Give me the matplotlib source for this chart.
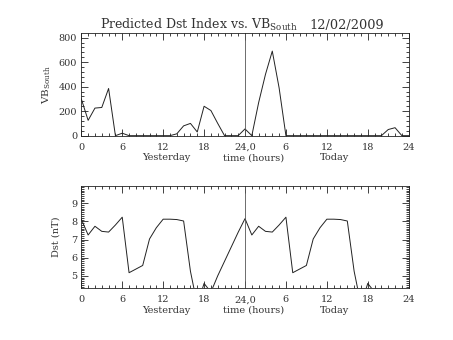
import matplotlib
matplotlib.use("Agg")
import matplotlib.pyplot as plt
from matplotlib.ticker import MultipleLocator

plt.rcParams['font.family'] = 'DejaVu Serif'
plt.rcParams['mathtext.fontset'] = 'custom'
plt.rcParams['mathtext.rm'] = 'DejaVu Serif'
plt.rcParams['mathtext.default'] = 'regular'

# hours since start of yesterday (0..48)
vb_hours = list(range(49))
vb_south = [300, 125, 225, 230, 385, 0, 20, 0, 0, 0,
            0, 0, 0, 0, 15, 80, 100, 30, 240, 205,
            100, 0, 0, 0, 55, 0, 270, 500, 690, 390,
            0, 0, 0, 0, 0, 0, 0, 0, 0, 0,
            0, 0, 0, 0, 0, 50, 65, 0, 0]

dst_hours = list(range(44))
dst = [8.12, 7.25, 7.73, 7.45, 7.41, 7.8, 8.23, 5.17, 5.37, 5.57,
       7.03, 7.65, 8.12, 8.12, 8.1, 8.02, 5.25, 3.4, 4.58, 4.1,
       5.0, 5.8, 6.6, 7.4,
       8.15, 7.25, 7.73, 7.45, 7.41, 7.8, 8.23, 5.17, 5.37, 5.57,
       7.03, 7.65, 8.12, 8.12, 8.1, 8.02, 5.25, 3.4, 4.58, 4.1]

xticks = [0, 6, 12, 18, 24, 30, 36, 42, 48]
xticklabels = ['0', '6', '12', '18', '24,0', '6', '12', '18', '24']

fs = 7
lc = '#222222'
tc = '#333333'

fig = plt.figure(figsize=(4.53, 3.40), dpi=100)
ax1 = fig.add_axes([0.1795, 0.601, 0.7227, 0.302])
ax2 = fig.add_axes([0.1795, 0.152, 0.7227, 0.301])


def style(ax):
    ax.set_xlim(0, 48)
    ax.set_xticks(xticks)
    ax.set_xticklabels(xticklabels)
    ax.xaxis.set_minor_locator(MultipleLocator(1))
    ax.tick_params(which='both', direction='in', top=True, right=True,
                   labelsize=fs, width=0.6, color=lc, labelcolor=tc)
    ax.tick_params(which='major', length=5)
    ax.tick_params(which='minor', length=2.5)
    ax.tick_params(axis='x', pad=5)
    ax.tick_params(axis='y', pad=3)
    for s in ax.spines.values():
        s.set_linewidth(0.6)
        s.set_color(lc)
    ax.axvline(24, color='#555555', lw=0.6)
    ax.text(0.258, -0.215, 'Yesterday', transform=ax.transAxes,
            ha='center', va='center', fontsize=fs, color=tc)
    ax.text(0.525, -0.215, 'time (hours)', transform=ax.transAxes,
            ha='center', va='center', fontsize=fs, color=tc)
    ax.text(0.773, -0.215, 'Today', transform=ax.transAxes,
            ha='center', va='center', fontsize=fs, color=tc)


# top panel: VB south
ax1.plot(vb_hours, vb_south, color=lc, lw=0.7)
style(ax1)
ax1.set_ylim(0, 838)
ax1.set_yticks([0, 200, 400, 600, 800])
ax1.yaxis.set_minor_locator(MultipleLocator(40))
ax1.set_ylabel('VB$_{South}$', fontsize=7.5, color=tc)
ax1.yaxis.set_label_coords(-0.086, 0.5)

# bottom panel: Dst
ax2.plot(dst_hours, dst, color=lc, lw=0.7)
style(ax2)
ax2.set_ylim(4.31, 9.95)
ax2.set_yticks([5, 6, 7, 8, 9])
ax2.yaxis.set_minor_locator(MultipleLocator(0.1))
ax2.set_ylabel('Dst (nT)', fontsize=fs, color=tc)
ax2.yaxis.set_label_coords(-0.065, 0.5)

fig.text(0.221, 0.914, 'Predicted Dst Index vs. VB$_{South}$', fontsize=9,
         ha='left', va='baseline', color=tc)
fig.text(0.684, 0.914, '12/02/2009', fontsize=9.3, ha='left', va='baseline',
         color=tc)

fig.savefig('out.png', dpi=100)
